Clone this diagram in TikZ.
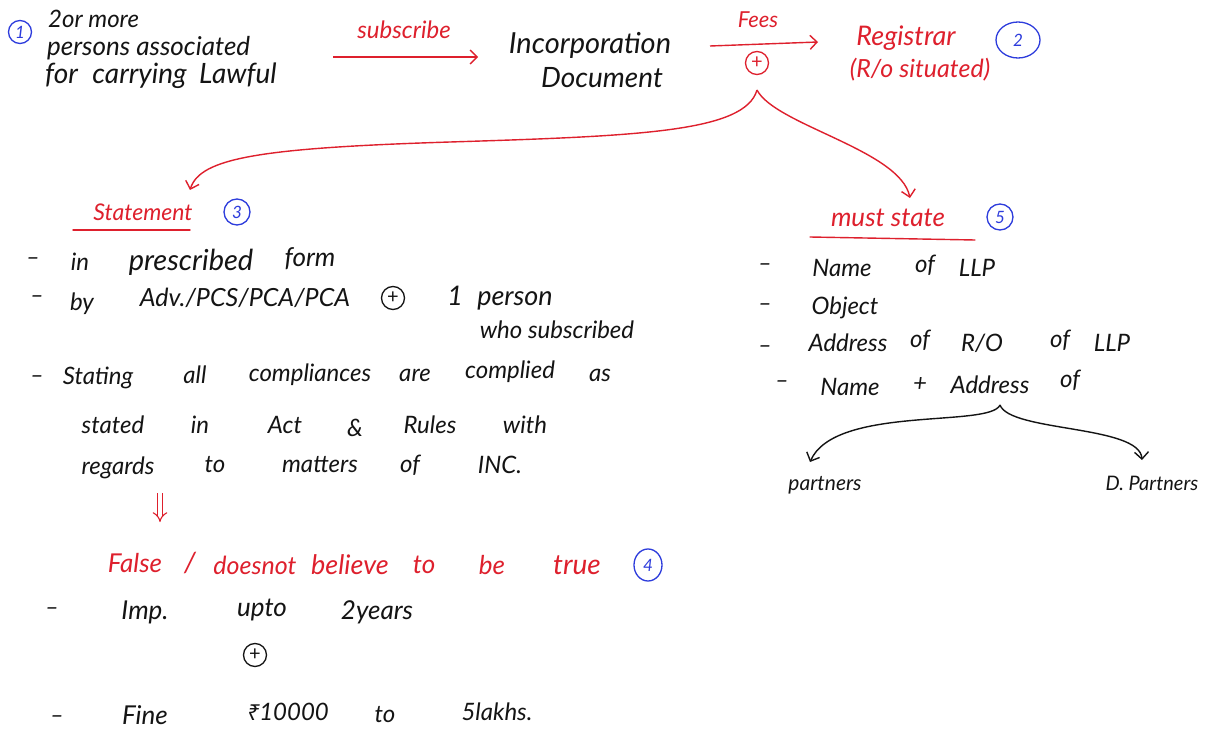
\documentclass[tikz,border=0pt]{standalone}
\usepackage{fontspec}
\setmainfont{Lato}
\usetikzlibrary{arrows.meta,shapes.geometric}
\newfontfamily\rupeefont{Noto Sans}
\definecolor{pen}{RGB}{20,20,20}
\definecolor{rpen}{RGB}{222,32,45}
\definecolor{bpen}{RGB}{45,60,220}
\newcommand\fsz[1]{\fontsize{#1}{#1}\selectfont\itshape}
\tikzset{
 hw/.style={font=\fsz{24}, inner sep=0pt, text=pen},
 hwr/.style={hw, text=rpen},
 num/.style={circle, draw=bpen, text=bpen, line width=1.3pt, font=\fsz{17}, inner sep=1pt, minimum size=26pt},
 plusc/.style={circle, draw=pen, text=pen, line width=1.3pt, inner sep=0pt, minimum size=23pt, font=\fontsize{20}{20}\selectfont},
 rarrow/.style={rpen, line width=1.4pt, -{Straight Barb[length=7pt,width=14pt]}},
 karrow/.style={pen, line width=1.4pt, -{Straight Barb[length=7pt,width=14pt]}},
 uline/.style={rpen, line width=1.4pt, line cap=round},
}
\begin{document}
\begin{tikzpicture}[x=1pt,y=-1pt]
\useasboundingbox[fill=white] (0,0) rectangle (1211,733);
% top row
\node[num, minimum size=23pt] (c1) at (20,32) {1};
\node[hw, anchor=west, font=\fsz{24}] (t1a) at (48,19) {2or more};
\node[hw, anchor=west, font=\fsz{26}] (t1b) at (47,48) {persons associated};
\node[hw, anchor=west, font=\fsz{28}] (t1c) at (45,76) {for\hspace{8pt} carrying\hspace{6pt} Lawful};
\node[hwr, font=\fsz{24}] (sub) at (404,30) {subscribe};
\coordinate (s1) at (333,57);
\coordinate (s2) at (478,57);
\draw[rarrow] (s1) -- (s2);
\node[hw, font=\fsz{29}] (inc) at (590,45) {Incorporation};
\node[hw, font=\fsz{28}] (doc) at (602,78) {Document};
\node[hwr, font=\fsz{22}] (fees) at (758,20) {Fees};
\coordinate (f1) at (710,46);
\coordinate (f2) at (818,42);
\draw[rarrow] (f1) -- (f2);
\node[plusc, draw=rpen, text=rpen] (p1) at (757,63) {+};
\node[hwr, font=\fsz{27}] (reg) at (906,38) {Registrar};
\node[hwr, font=\fsz{25}] (ro) at (920,70) {(R/o situated)};
\node[num, ellipse, minimum width=44pt, minimum height=36pt] (c2) at (1018,40) {2};
% branches
\coordinate (sbr) at (757,90);
\coordinate (ltip) at (190,190);
\coordinate (rtip) at (910,198);
\draw[rarrow] (sbr) .. controls (745,132) and (640,136) .. (450,142) .. controls (260,148) and (200,158) .. (ltip);
\draw[rarrow] (sbr) .. controls (775,125) and (900,150) .. (rtip);
% Statement
\node[hwr, font=\fsz{23}] (stm) at (143,212) {Statement};
\coordinate (u1a) at (73,230);
\coordinate (u1b) at (190,230);
\draw[uline] (u1a) -- (u1b);
\node[num] (c3) at (237,212) {3};
\node[hw] (d1) at (33,262) {–};
\node[hw] (w11) at (80,262) {in};
\node[hw, font=\fsz{29}] (w12) at (191,262) {prescribed};
\node[hw, font=\fsz{26}] (w13) at (310,259) {form};
\node[hw] (d2) at (37,300) {–};
\node[hw] (w21) at (82,304) {by};
\node[hw, font=\fsz{25}] (w22) at (245,298) {Adv./PCS/PCA/PCA};
\node[plusc] (p2) at (393,298) {+};
\node[hw, font=\fsz{27}] (w23) at (500,298) {1\hspace{8pt} person};
\node[hw] (w24) at (557,330) {who subscribed};
\node[hw] (d3) at (37,380) {–};
\node[hw] (w31) at (98,378) {Stating};
\node[hw] (w32) at (195,375) {all};
\node[hw] (w33) at (310,375) {compliances};
\node[hw] (w34) at (415,375) {are};
\node[hw] (w35) at (510,372) {complied};
\node[hw] (w36) at (600,375) {as};
\node[hw] (w41) at (113,425) {stated};
\node[hw] (w42) at (200,425) {in};
\node[hw] (w43) at (285,425) {Act};
\node[hw] (w44) at (355,428) {\&};
\node[hw] (w45) at (430,425) {Rules};
\node[hw] (w46) at (525,425) {with};
\node[hw] (w51) at (118,468) {regards};
\node[hw] (w52) at (215,465) {to};
\node[hw] (w53) at (320,465) {matters};
\node[hw] (w54) at (410,465) {of};
\node[hw] (w55) at (500,465) {INC.};
\coordinate (da1) at (160,493);
\coordinate (da2) at (160,522);
\draw[rpen, line width=1.1pt, double distance=4pt, -{Implies[length=8pt]}] (da1) -- (da2);
% False line
\node[hwr, font=\fsz{26}] (f01) at (135,563) {False};
\node[hwr, font=\fsz{28}] (f02) at (190,563) {/};
\node[hwr, font=\fsz{25}] (f03) at (255,565) {doesnot};
\node[hwr, font=\fsz{27}] (f04) at (350,565) {believe};
\node[hwr, font=\fsz{26}] (f05) at (424,565) {to};
\node[hwr, font=\fsz{26}] (f06) at (492,565) {be};
\node[hwr, font=\fsz{28}] (f07) at (577,565) {true};
\node[num, ellipse, minimum width=28pt, minimum height=32pt] (c4) at (648,565) {4};
\node[hw] (d6) at (52,612) {–};
\node[hw, font=\fsz{26}] (w61) at (145,612) {Imp.};
\node[hw, font=\fsz{26}] (w62) at (262,610) {upto};
\node[hw, font=\fsz{26}] (w63) at (377,612) {2years};
\node[plusc] (p3) at (255,655) {+};
\node[hw] (d7) at (57,720) {–};
\node[hw, font=\fsz{26}] (w71) at (145,715) {Fine};
\node[hw] (w72) at (288,712) {{\rupeefont\fontsize{22}{22}\selectfont ₹}10000};
\node[hw] (w73) at (385,715) {to};
\node[hw] (w74) at (497,712) {5lakhs.};
% right side
\node[hwr, font=\fsz{26}] (ms) at (888,218) {must state};
\coordinate (u2a) at (810,237);
\coordinate (u2b) at (975,240);
\draw[uline] (u2a) -- (u2b);
\node[num] (c5) at (1000,217) {5};
\node[hw] (r1d) at (765,268) {–};
\node[hw] (r11) at (842,268) {Name};
\node[hw] (r12) at (925,265) {of};
\node[hw] (r13) at (977,268) {LLP};
\node[hw] (r2d) at (765,308) {–};
\node[hw] (r21) at (845,308) {Object};
\node[hw] (r3d) at (765,350) {–};
\node[hw] (r31) at (848,343) {Address};
\node[hw] (r32) at (920,340) {of};
\node[hw] (r33) at (982,343) {R/O};
\node[hw] (r34) at (1060,340) {of};
\node[hw] (r35) at (1112,343) {LLP};
\node[hw] (r4d) at (782,385) {–};
\node[hw] (r41) at (850,387) {Name};
\node[hw] (r42) at (920,385) {+};
\node[hw] (r43) at (990,385) {Address};
\node[hw] (r44) at (1070,380) {of};
\coordinate (bt) at (1000,405);
\node[hw, font=\fsz{21}] (pa) at (825,485) {partners};
\node[hw, font=\fsz{20}] (dp) at (1152,483) {D. Partners};
\coordinate (bl) at (810,462);
\coordinate (br) at (1142,460);
\draw[karrow] (bt) .. controls (990,428) and (835,405) .. (bl);
\draw[karrow] (bt) .. controls (1010,432) and (1140,425) .. (br);
\end{tikzpicture}
\end{document}
